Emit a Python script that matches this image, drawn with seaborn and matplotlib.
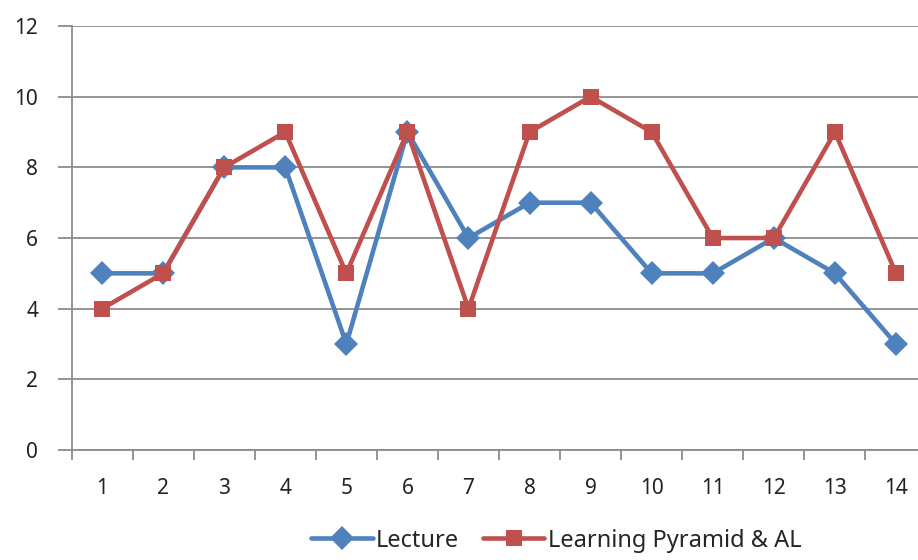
import matplotlib

matplotlib.use("Agg")
import matplotlib.pyplot as plt
import numpy as np
import pandas as pd
import seaborn as sns

categories = ["1", "2", "3", "4", "5", "6", "7", "8", "9", "10", "11", "12", "13", "14"]
lecture = [5, 5, 8, 8, 3, 9, 6, 7, 7, 5, 5, 6, 5, 3]
pyramid = [4, 5, 8, 9, 5, 9, 4, 9, 10, 9, 6, 6, 9, 5]
series_names = ["Lecture", "Learning Pyramid & AL"]

df = pd.DataFrame(
    {
        "pos": list(range(len(categories))) * 2,
        "value": lecture + pyramid,
        "series": [series_names[0]] * len(lecture) + [series_names[1]] * len(pyramid),
    }
)

sns.set_theme(style="white")
plt.rcParams["font.family"] = ["Noto Sans", "DejaVu Sans"]

fig = plt.figure(figsize=(9.18, 5.6), dpi=100)
# axes runs slightly past the right edge, as in the original
ax = fig.add_axes([0.0779, 0.1964, 0.9314, 0.7571])

blue, red = "#4F81BD", "#C0504D"
palette = {series_names[0]: blue, series_names[1]: red}
sns.lineplot(
    data=df,
    x="pos",
    y="value",
    hue="series",
    style="series",
    markers={series_names[0]: "D", series_names[1]: "s"},
    dashes=False,
    palette=palette,
    linewidth=3.3,
    markersize=12,
    markeredgewidth=0,
    ax=ax,
    legend=False,
)

ax.set_xlim(-0.5, len(categories) - 0.5)
ax.set_ylim(0, 12)
ax.set_yticks(np.arange(0, 13, 2))
ax.yaxis.grid(True, color="#8c8c8c", linewidth=1.3)
ax.set_axisbelow(True)
ax.set_xticks(range(len(categories)))
ax.set_xticklabels(categories)
ax.set_xticks(np.arange(-0.5, len(categories), 1), minor=True)
ax.tick_params(axis="x", which="major", length=0, pad=20, labelsize=15, colors="#222222")
ax.tick_params(axis="x", which="minor", length=7, width=1.3, color="#8c8c8c", direction="out", bottom=True)
ax.tick_params(axis="y", which="major", length=10, width=1.3, color="#8c8c8c", left=True, pad=14, labelsize=15, colors="#222222")
ax.set_xlabel("")
ax.set_ylabel("")
for side in ("top", "right"):
    ax.spines[side].set_visible(False)
for side in ("left", "bottom"):
    ax.spines[side].set_color("#8c8c8c")
    ax.spines[side].set_linewidth(1.3)

handles = [
    plt.Line2D([], [], color=blue, marker="D", linewidth=3.3, markersize=12, markeredgewidth=0),
    plt.Line2D([], [], color=red, marker="s", linewidth=3.3, markersize=12, markeredgewidth=0),
]
fig.legend(
    handles,
    series_names,
    loc="lower center",
    bbox_to_anchor=(0.606, -0.025),
    ncol=2,
    frameon=False,
    fontsize=17,
    handlelength=2.6,
    handletextpad=0.15,
    columnspacing=1.0,
)

fig.savefig("out.png", dpi=100)
